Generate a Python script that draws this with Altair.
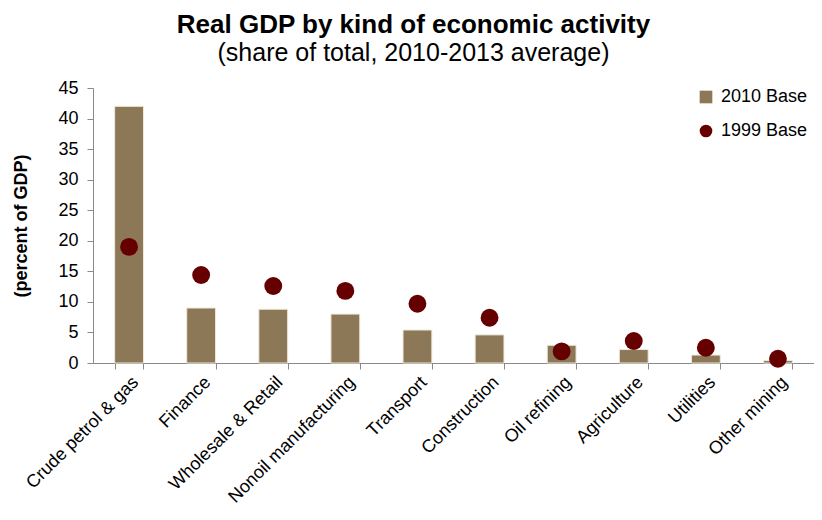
import altair as alt
import pandas as pd

categories = ["Crude petrol & gas", "Finance", "Wholesale & Retail", "Nonoil manufacturing",
              "Transport", "Construction", "Oil refining", "Agriculture", "Utilities", "Other mining"]
base_2010 = [42.0, 9.0, 8.8, 8.0, 5.4, 4.6, 2.9, 2.2, 1.3, 0.4]
base_1999 = [19.0, 14.4, 12.6, 11.8, 9.7, 7.4, 1.9, 3.6, 2.5, 0.7]
series_names = ["2010 Base", "1999 Base"]
y_ticks = list(range(0, 50, 5))

df = pd.DataFrame({"category": categories, "v2010": base_2010, "v1999": base_1999,
                   "series": ["1999 Base"] * len(categories)})

FONT = "Liberation Sans"
BROWN = "#8C7856"
RED = "#660000"

x = alt.X("category:N", sort=categories, title=None,
          scale=alt.Scale(paddingInner=0.6, paddingOuter=0.3),
          axis=alt.Axis(labelAngle=-45, labelFontSize=18, labelFont=FONT, labelColor="#000",
                        domainColor="#898989", tickColor="#898989", tickSize=6, labelPadding=4,
                        labelLimit=400, tickBand="extent", labelOverlap=False))

yscale = alt.Scale(domain=[0, 45], nice=False, zero=True)
yaxis = alt.Axis(values=y_ticks, tickCount=10, grid=False, labelFontSize=18, labelFont=FONT,
                 labelColor="#000", domainColor="#898989", tickColor="#898989", tickSize=6,
                 labelPadding=9, labelOverlap=False, labelBound=False, labelFlush=False,
                 title="(percent of GDP)", titleFont=FONT, titleFontSize=18, titleFontWeight="bold",
                 titleColor="#000", titlePadding=27)

bars = alt.Chart(df).mark_bar(color=BROWN, stroke="#efe9dc", strokeWidth=1).encode(
    x=x,
    y=alt.Y("v2010:Q", scale=yscale, axis=yaxis),
)

points = alt.Chart(df).mark_point(filled=True, opacity=1, size=320).encode(
    x=x,
    y=alt.Y("v1999:Q", scale=yscale, axis=yaxis),
    color=alt.Color("series:N", scale=alt.Scale(domain=series_names, range=[BROWN, RED]),
                    legend=alt.Legend(title=None, orient="none", legendX=604, legendY=0,
                                      labelFont=FONT, labelFontSize=18, labelColor="#000",
                                      symbolSize=160, rowPadding=14, symbolOpacity=1,
                                      labelOffset=6)),
    shape=alt.Shape("series:N", scale=alt.Scale(domain=series_names, range=["square", "circle"])),
)

chart = alt.layer(bars, points).resolve_axis(y="shared").properties(
    width=721, height=275,
    title=alt.TitleParams(
        text="Real GDP by kind of economic activity",
        subtitle="(share of total, 2010-2013 average)",
        font=FONT, fontSize=26, fontWeight="bold", color="#000",
        subtitleFont=FONT, subtitleFontSize=25, subtitleColor="#000", subtitlePadding=3,
        anchor="middle", frame="bounds", offset=13),
    autosize=alt.AutoSizeParams(type="none"),
    padding={"left": 85, "top": 80, "right": 0, "bottom": 149},
).configure_view(stroke=None)

chart.save("out.html", embed_options={"renderer": "svg", "actions": False})
